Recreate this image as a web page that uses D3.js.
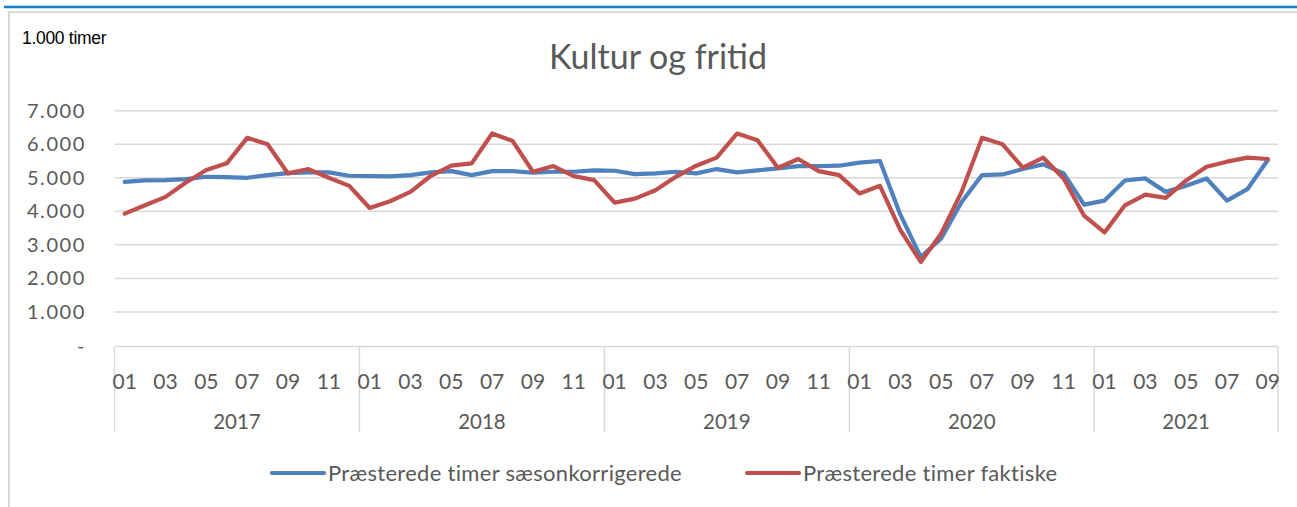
<!DOCTYPE html>
<html>
<head>
<meta charset="utf-8">
<script src="https://cdn.jsdelivr.net/npm/d3@7/dist/d3.min.js"></script>
<style>
  html, body { margin: 0; padding: 0; background: #fff; }
  svg { display: block; }
</style>
</head>
<body>
<div id="chart"></div>
<script>
const WIDTH = 1297;
const HEIGHT = 507;

const title = "Kultur og fritid";
const unitLabel = "1.000 timer";
const years = ["2017", "2018", "2019", "2020", "2021"];
const monthsInYear = [12, 12, 12, 12, 9];
const monthLabels = ["01", "02", "03", "04", "05", "06", "07", "08", "09", "10", "11", "12"];
const yTicks = [0, 1000, 2000, 3000, 4000, 5000, 6000, 7000];
const seriesNames = ["Præsterede timer sæsonkorrigerede", "Præsterede timer faktiske"];

// sæsonkorrigerede (1.000 timer)
const seasonal = [
  4880, 4920, 4930, 4960, 5030, 5020, 5000, 5080, 5140, 5160, 5160, 5060,
  5050, 5040, 5080, 5160, 5200, 5080, 5200, 5200, 5150, 5180, 5180, 5220,
  5210, 5110, 5130, 5180, 5130, 5260, 5160, 5220, 5280, 5350, 5350, 5360,
  5450, 5500, 3900, 2640, 3190, 4280, 5080, 5100, 5260, 5400, 5130, 4200,
  4320, 4920, 4980, 4580, 4760, 4980, 4320, 4660, 5530
];
// faktiske (1.000 timer)
const actual = [
  3930, 4180, 4430, 4860, 5230, 5430, 6190, 6000, 5130, 5260, 5000, 4760,
  4100, 4300, 4580, 5060, 5360, 5430, 6320, 6100, 5180, 5350, 5050, 4930,
  4260, 4380, 4630, 5030, 5360, 5600, 6320, 6120, 5300, 5560, 5200, 5080,
  4530, 4760, 3440, 2490, 3340, 4580, 6190, 6000, 5300, 5600, 4980, 3870,
  3370, 4180, 4500, 4400, 4920, 5330, 5480, 5600, 5560
];

const BLUE = "#4f81bd";
const RED = "#c0504d";
const GRID = "#d9d9d9";
const TEXT = "#595959";
const FONT = "Lato, 'Open Sans', sans-serif";

const PLOT = { left: 114.5, right: 1278, top: 110.7, bottom: 345.5 };

const periods = [];
years.forEach((y, yi) => {
  for (let m = 0; m < monthsInYear[yi]; m++) {
    periods.push({ key: `${y}-${monthLabels[m]}`, year: y, month: monthLabels[m], m });
  }
});

const svg = d3.select("#chart")
  .append("svg")
  .attr("width", WIDTH)
  .attr("height", HEIGHT);

// frame
svg.append("line")
  .attr("x1", 4).attr("x2", WIDTH)
  .attr("y1", 7).attr("y2", 7)
  .attr("stroke", "#0a86c8").attr("stroke-width", 2.5);
svg.append("path")
  .attr("d", `M9,${HEIGHT} V12 H${WIDTH}`)
  .attr("fill", "none")
  .attr("stroke", GRID).attr("stroke-width", 2);

const x = d3.scaleBand()
  .domain(periods.map(d => d.key))
  .range([PLOT.left, PLOT.right])
  .padding(0);

const y = d3.scaleLinear()
  .domain([0, 7000])
  .range([PLOT.bottom, PLOT.top]);

const fmt = v => v === 0 ? "-" : d3.format(",")(v).replace(/,/g, ".");

// gridlines
svg.append("g")
  .selectAll("line")
  .data(yTicks.filter(d => d > 0))
  .join("line")
  .attr("x1", PLOT.left).attr("x2", PLOT.right)
  .attr("y1", d => y(d)).attr("y2", d => y(d))
  .attr("stroke", GRID).attr("stroke-width", 1.5);

// y labels
svg.append("g")
  .selectAll("text")
  .data(yTicks)
  .join("text")
  .attr("x", 86)
  .attr("y", d => y(d))
  .attr("dy", "0.35em")
  .attr("text-anchor", "end")
  .attr("font-family", FONT)
  .attr("font-size", 20)
  .attr("letter-spacing", 1.6)
  .attr("fill", TEXT)
  .text(fmt);

// category axis
svg.append("line")
  .attr("x1", PLOT.left).attr("x2", PLOT.right)
  .attr("y1", PLOT.bottom + 1).attr("y2", PLOT.bottom + 1)
  .attr("stroke", GRID).attr("stroke-width", 1.5);

const yearStarts = [];
let acc = 0;
years.forEach((yr, i) => {
  yearStarts.push({ year: yr, start: periods[acc].key, end: periods[acc + monthsInYear[i] - 1].key });
  acc += monthsInYear[i];
});

const dividerX = [PLOT.left, ...yearStarts.map(d => x(d.end) + x.bandwidth())];
svg.append("g")
  .selectAll("line")
  .data(dividerX)
  .join("line")
  .attr("x1", d => d).attr("x2", d => d)
  .attr("y1", PLOT.bottom + 1).attr("y2", 432)
  .attr("stroke", GRID).attr("stroke-width", 1.5);

svg.append("g")
  .selectAll("text")
  .data(periods.filter(d => d.m % 2 === 0))
  .join("text")
  .attr("x", d => x(d.key) + x.bandwidth() / 2)
  .attr("y", 389)
  .attr("text-anchor", "middle")
  .attr("font-family", FONT)
  .attr("font-size", 21)
  .attr("fill", TEXT)
  .text(d => d.month);

svg.append("g")
  .selectAll("text")
  .data(yearStarts)
  .join("text")
  .attr("x", d => (x(d.start) + x(d.end) + x.bandwidth()) / 2)
  .attr("y", 429)
  .attr("text-anchor", "middle")
  .attr("font-family", FONT)
  .attr("font-size", 20.5)
  .attr("fill", TEXT)
  .text(d => d.year);

// lines
const line = d3.line()
  .x((d, i) => x(periods[i].key) + x.bandwidth() / 2)
  .y(d => y(d));

[[seasonal, BLUE], [actual, RED]].forEach(([vals, color]) => {
  svg.append("path")
    .datum(vals)
    .attr("d", line)
    .attr("fill", "none")
    .attr("stroke", color)
    .attr("stroke-width", 4.2)
    .attr("stroke-linejoin", "round")
    .attr("stroke-linecap", "round");
});

// title + unit
svg.append("text")
  .attr("x", 658).attr("y", 69)
  .attr("text-anchor", "middle")
  .attr("font-family", FONT)
  .attr("font-size", 34)
  .attr("fill", TEXT)
  .text(title);

svg.append("text")
  .attr("x", 22).attr("y", 44)
  .attr("font-family", "'Liberation Sans Narrow', 'Liberation Sans', Arial, sans-serif")
  .attr("font-size", 17.5)
  .attr("letter-spacing", -0.3)
  .attr("fill", "#000")
  .text(unitLabel);

// legend
const legendItems = [
  { name: seriesNames[0], color: BLUE, x: 270 },
  { name: seriesNames[1], color: RED, x: 745 }
];
const lg = svg.append("g");
legendItems.forEach(d => {
  lg.append("line")
    .attr("x1", d.x + 2).attr("x2", d.x + 54)
    .attr("y1", 473).attr("y2", 473)
    .attr("stroke", d.color).attr("stroke-width", 4.2)
    .attr("stroke-linecap", "round");
  lg.append("text")
    .attr("x", d.x + 58).attr("y", 473)
    .attr("dy", "0.35em")
    .attr("font-family", FONT)
    .attr("font-size", 22)
    .attr("letter-spacing", 0.3)
    .attr("fill", TEXT)
    .text(d.name);
});
</script>
</body>
</html>
